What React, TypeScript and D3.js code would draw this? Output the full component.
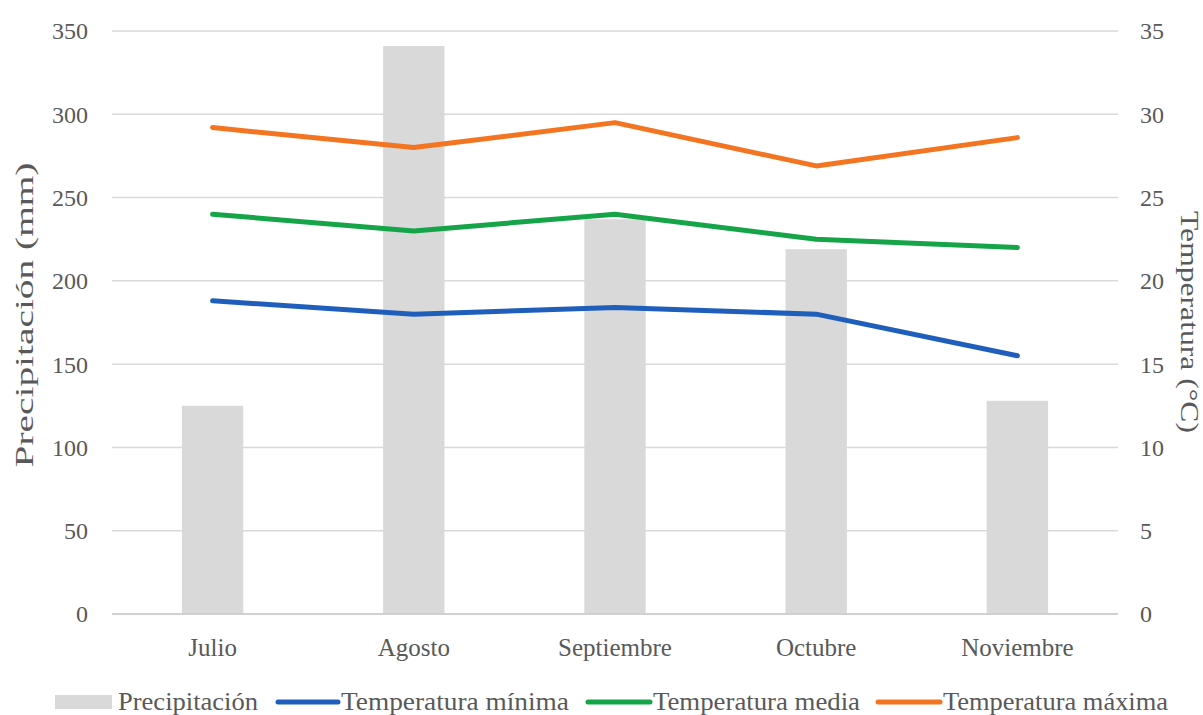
import React, { useRef, useEffect } from "react";
import * as d3 from "d3";

const months = ["Julio", "Agosto", "Septiembre", "Octubre", "Noviembre"];
const precipitacion = [125, 341, 237, 219, 128];
const tempMin = [18.8, 18.0, 18.4, 18.0, 15.5];
const tempMedia = [24.0, 23.0, 24.0, 22.5, 22.0];
const tempMax = [29.2, 28.0, 29.5, 26.9, 28.6];
const precipTicks = [0, 50, 100, 150, 200, 250, 300, 350];
const tempTicks = [0, 5, 10, 15, 20, 25, 30, 35];

const FONT = "'Liberation Serif', 'Times New Roman', serif";
const TEXT = "#595959";

function App() {
  const ref = useRef<SVGSVGElement>(null);

  useEffect(() => {
    const svg = d3.select(ref.current);
    svg.selectAll("*").remove();

    const left = 112, right = 1118, top = 31, bottom = 614;

    const x = d3.scaleBand().domain(months).range([left, right]).padding(0);
    const yP = d3.scaleLinear().domain([0, 350]).range([bottom, top]);
    const yT = d3.scaleLinear().domain([0, 35]).range([bottom, top]);

    // grid
    svg.append("g")
      .selectAll("line")
      .data(precipTicks.filter(d => d > 0))
      .enter()
      .append("line")
      .attr("x1", left)
      .attr("x2", right)
      .attr("y1", d => yP(d))
      .attr("y2", d => yP(d))
      .attr("stroke", "#d9d9d9")
      .attr("stroke-width", 1.5);

    // bars
    const bw = x.bandwidth() * 0.305;
    svg.append("g")
      .selectAll("rect")
      .data(precipitacion)
      .enter()
      .append("rect")
      .attr("x", (d, i) => x(months[i])! + x.bandwidth() / 2 - bw / 2)
      .attr("y", d => yP(d))
      .attr("width", bw)
      .attr("height", d => yP(0) - yP(d))
      .attr("fill", "#d9d9d9");

    // base line
    svg.append("line")
      .attr("x1", left)
      .attr("x2", right)
      .attr("y1", yP(0))
      .attr("y2", yP(0))
      .attr("stroke", "#d0d0d0")
      .attr("stroke-width", 2);

    // left ticks
    svg.append("g")
      .selectAll("text")
      .data(precipTicks)
      .enter()
      .append("text")
      .attr("x", 88)
      .attr("y", d => yP(d))
      .attr("dy", "0.35em")
      .attr("text-anchor", "end")
      .attr("font-family", FONT)
      .attr("font-size", 24)
      .attr("fill", TEXT)
      .text(d => d);

    // right ticks
    svg.append("g")
      .selectAll("text")
      .data(tempTicks)
      .enter()
      .append("text")
      .attr("x", 1140)
      .attr("y", d => yT(d))
      .attr("dy", "0.35em")
      .attr("text-anchor", "start")
      .attr("font-family", FONT)
      .attr("font-size", 24)
      .attr("fill", TEXT)
      .text(d => d);

    // x labels
    svg.append("g")
      .selectAll("text")
      .data(months)
      .enter()
      .append("text")
      .attr("x", d => x(d)! + x.bandwidth() / 2)
      .attr("y", 656)
      .attr("text-anchor", "middle")
      .attr("font-family", FONT)
      .attr("font-size", 25)
      .attr("fill", TEXT)
      .text(d => d);

    // axis titles
    svg.append("text")
      .attr("transform", "translate(33," + 315 + ") rotate(-90)")
      .attr("text-anchor", "middle")
      .attr("font-family", FONT)
      .attr("font-size", 25)
      .attr("fill", TEXT)
      .attr("textLength", 305)
      .attr("lengthAdjust", "spacingAndGlyphs")
      .text("Precipitación (mm)");

    svg.append("text")
      .attr("transform", "translate(1181," + 322 + ") rotate(90)")
      .attr("text-anchor", "middle")
      .attr("font-family", FONT)
      .attr("font-size", 25)
      .attr("fill", TEXT)
      .attr("textLength", 222)
      .attr("lengthAdjust", "spacingAndGlyphs")
      .text("Temperatura (°C)");

    // lines
    const series = [
      { name: "Temperatura mínima", values: tempMin, color: "#1f5fbb" },
      { name: "Temperatura media", values: tempMedia, color: "#15a548" },
      { name: "Temperatura máxima", values: tempMax, color: "#f37421" },
    ];
    const line = d3.line<number>()
      .x((d, i) => x(months[i])! + x.bandwidth() / 2)
      .y(d => yT(d));
    series.forEach(s => {
      svg.append("path")
        .datum(s.values)
        .attr("d", line)
        .attr("fill", "none")
        .attr("stroke", s.color)
        .attr("stroke-width", 5)
        .attr("stroke-linejoin", "round")
        .attr("stroke-linecap", "round");
    });

    // legend
    const ly = 702;
    const lg = svg.append("g");
    lg.append("rect")
      .attr("x", 55).attr("y", ly - 7).attr("width", 57).attr("height", 14)
      .attr("fill", "#d9d9d9");
    const legendItems = [
      { text: "Precipitación", tx: 118, len: 140 },
      { text: "Temperatura mínima", tx: 341, len: 228, lx1: 278, lx2: 338, color: "#1f5fbb" },
      { text: "Temperatura media", tx: 653, len: 207, lx1: 588, lx2: 650, color: "#15a548" },
      { text: "Temperatura máxima", tx: 943, len: 225, lx1: 878, lx2: 940, color: "#f37421" },
    ];
    legendItems.forEach(it => {
      if (it.color) {
        lg.append("line")
          .attr("x1", it.lx1!).attr("x2", it.lx2!)
          .attr("y1", ly).attr("y2", ly)
          .attr("stroke", it.color)
          .attr("stroke-width", 5)
          .attr("stroke-linecap", "round");
      }
      lg.append("text")
        .attr("x", it.tx)
        .attr("y", ly + 8)
        .attr("font-family", FONT)
        .attr("font-size", 25)
        .attr("fill", TEXT)
        .attr("textLength", it.len)
        .attr("lengthAdjust", "spacingAndGlyphs")
        .text(it.text);
    });
  }, []);

  return (
    <div style={{ position: "absolute", left: 0, top: 0 }}>
      <svg ref={ref} width={1203} height={715} style={{ display: "block", background: "#fff" }} />
    </div>
  );
}

export default App;
